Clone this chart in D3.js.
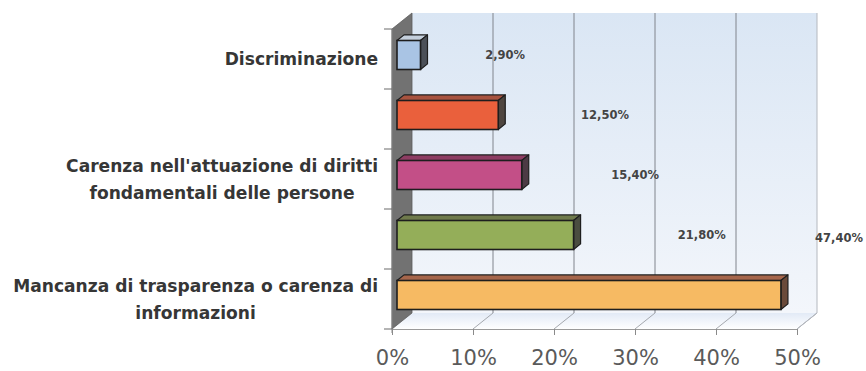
<!DOCTYPE html>
<html lang="it">
<head>
<meta charset="utf-8">
<script src="https://cdn.jsdelivr.net/npm/d3@7"></script>
<style>
  html, body { margin: 0; padding: 0; background: #ffffff; }
  svg { display: block; }
</style>
</head>
<body>
<svg id="chart" width="866" height="371"></svg>
<script>
// Category labels (wrapped lines; every other category label is not printed on the axis)
const categoryLines = [
  ["Discriminazione"],
  [],
  ["Carenza nell'attuazione di diritti", "fondamentali delle persone"],
  [],
  ["Mancanza di trasparenza o carenza di", "informazioni"]
];
// Percent values, one per category
const values = [2.9, 12.5, 15.4, 21.8, 47.4];
// Value-axis tick labels
const xTicks = [0, 10, 20, 30, 40, 50];

// Face colours of the 3D boxes
const frontColors = ["#a9c4e4", "#ea603c", "#c34f87", "#94ae59", "#f6ba63"];
const topColors   = ["#c4cfdc", "#a8533f", "#8e3d63", "#6f7a4c", "#a6664c"];
const sideColors  = ["#4b5058", "#4f4640", "#4c3a44", "#4a4d40", "#6a4a3a"];

const svg = d3.select("#chart");
const W = 866, H = 371;

// Front plane of the plot and the depth vector of the 3D box
const x = d3.scaleLinear().domain([0, 50]).range([392, 797]);
const y = d3.scaleBand().domain(d3.range(values.length)).range([29, 329]);
const DX = 20, DY = -16;
const yTop = y.range()[0], yBot = y.range()[1];
const x0 = x(0), x1 = x(50);

const itFormat = d3.formatLocale({ decimal: ",", thousands: ".", grouping: [3], currency: ["€", ""] }).format(".2f");

const defs = svg.append("defs");
const wallGrad = defs.append("linearGradient").attr("id", "wall").attr("x1", 0).attr("y1", 0).attr("x2", 0).attr("y2", 1);
wallGrad.append("stop").attr("offset", "0%").attr("stop-color", "#dae6f4");
wallGrad.append("stop").attr("offset", "100%").attr("stop-color", "#f3f6fb");
const floorGrad = defs.append("linearGradient").attr("id", "floor").attr("x1", 0).attr("y1", 0).attr("x2", 0).attr("y2", 1);
floorGrad.append("stop").attr("offset", "0%").attr("stop-color", "#e2eaf6");
floorGrad.append("stop").attr("offset", "100%").attr("stop-color", "#ffffff");

const poly = pts => pts.map(p => p.join(",")).join(" ");

// Back wall
svg.append("rect")
  .attr("x", x0 + DX).attr("y", yTop + DY)
  .attr("width", x1 - x0).attr("height", yBot - yTop)
  .attr("fill", "url(#wall)");

// Floor
svg.append("polygon")
  .attr("points", poly([[x0, yBot], [x1, yBot], [x1 + DX, yBot + DY], [x0 + DX, yBot + DY]]))
  .attr("fill", "url(#floor)");

// Vertical gridlines on the back wall and their traces across the floor
const grid = svg.append("g");
xTicks.filter(t => t > 0).forEach(t => {
  grid.append("line")
    .attr("x1", x(t) + DX).attr("x2", x(t) + DX)
    .attr("y1", yTop + DY).attr("y2", yBot + DY)
    .attr("stroke", t === 50 ? "#b4b8bf" : "#80848c").attr("stroke-width", 1);
  grid.append("line")
    .attr("x1", x(t)).attr("y1", yBot)
    .attr("x2", x(t) + DX).attr("y2", yBot + DY)
    .attr("stroke", "#a4a8ae").attr("stroke-width", 1);
});

// Left side wall
svg.append("polygon")
  .attr("points", poly([[x0, yTop], [x0 + DX, yTop + DY], [x0 + DX, yBot + DY], [x0, yBot]]))
  .attr("fill", "#727272").attr("stroke", "#5a5a5a").attr("stroke-width", 0.8);

// 3D bars: boxes sitting a quarter of the way into the depth
const t0 = 0.25, t1 = 0.6;
const ox = DX * t0, oy = DY * t0;
const bdx = DX * (t1 - t0), bdy = DY * (t1 - t0);
const barH = 29;

const bars = svg.append("g").selectAll("g").data(values).join("g");
bars.each(function(v, i) {
  const g = d3.select(this);
  const cy = y(i) + y.bandwidth() / 2 + oy;
  const xa = x(0) + ox, xb = x(v) + ox;
  const ya = cy - barH / 2, yb = cy + barH / 2;
  g.append("polygon")
    .attr("points", poly([[xa, ya], [xb, ya], [xb + bdx, ya + bdy], [xa + bdx, ya + bdy]]))
    .attr("fill", topColors[i]).attr("stroke", "#1e1e1e").attr("stroke-width", 1.2).attr("stroke-linejoin", "round");
  g.append("polygon")
    .attr("points", poly([[xb, ya], [xb + bdx, ya + bdy], [xb + bdx, yb + bdy], [xb, yb]]))
    .attr("fill", sideColors[i]).attr("stroke", "#1e1e1e").attr("stroke-width", 1.2).attr("stroke-linejoin", "round");
  g.append("rect")
    .attr("x", xa).attr("y", ya).attr("width", xb - xa).attr("height", barH)
    .attr("fill", frontColors[i]).attr("stroke", "#1e1e1e").attr("stroke-width", 1.6);
});

// Category axis: line plus ticks on the band boundaries
const catAxis = svg.append("g");
catAxis.append("line")
  .attr("x1", x0).attr("x2", x0).attr("y1", yTop).attr("y2", yBot + 4)
  .attr("stroke", "#8a8a8a").attr("stroke-width", 1);
d3.range(values.length + 1).forEach(k => {
  const yy = k < values.length ? y(k) : yBot;
  catAxis.append("line")
    .attr("x1", x0 - 8).attr("x2", x0).attr("y1", yy).attr("y2", yy)
    .attr("stroke", "#6a6a6a").attr("stroke-width", 1);
});

// Category labels, centred as a block whose right edge sits next to the axis
const labelRight = 378, lineGap = 27;
categoryLines.forEach((lines, i) => {
  if (!lines.length) return;
  const cy = y(i) + y.bandwidth() / 2;
  const t = svg.append("text")
    .attr("font-family", "DejaVu Sans, sans-serif")
    .attr("font-weight", "bold").attr("font-size", 17.1)
    .attr("fill", "#363636").attr("text-anchor", "middle");
  const spans = lines.map((s, j) => t.append("tspan").text(s));
  const maxW = d3.max(spans, s => s.node().getComputedTextLength());
  spans.forEach((s, j) => {
    s.attr("x", labelRight - maxW / 2)
     .attr("y", cy + (j - (lines.length - 1) / 2) * lineGap + 6);
  });
});

// Value axis along the front edge of the floor
const xAxis = svg.append("g")
  .attr("transform", `translate(0,${yBot})`)
  .call(d3.axisBottom(x).tickValues(xTicks).tickSize(6).tickSizeOuter(0).tickFormat(d => d + "%"));
xAxis.select(".domain").attr("stroke", "#9a9a9a");
xAxis.selectAll(".tick line").attr("stroke", "#8a8a8a");
xAxis.selectAll(".tick text")
  .attr("font-family", "DejaVu Sans, sans-serif").attr("font-size", 21)
  .attr("fill", "#5a5a5a").attr("dy", null).attr("y", 36);
// Right edge of the floor
svg.append("line")
  .attr("x1", x1).attr("y1", yBot).attr("x2", x1 + DX).attr("y2", yBot + DY)
  .attr("stroke", "#b4b8bf").attr("stroke-width", 1);

// Value labels, pushed out past the bar ends; a label that reaches the right
// edge is held inside the chart and lifted above its bar
const labelX = d3.scaleLinear().domain([0, 50]).range([475, 995]);
const labels = svg.append("g")
  .attr("font-family", "DejaVu Sans, sans-serif").attr("font-weight", "bold")
  .attr("font-size", 11.5).attr("fill", "#444").attr("text-anchor", "middle");
values.forEach((v, i) => {
  const txt = itFormat(v) + "%";
  const t = labels.append("text").text(txt);
  const w = t.node().getComputedTextLength();
  let cx = labelX(v);
  let cy = y(i) + y.bandwidth() / 2 + oy;
  const maxCx = W - w / 2 - 3;
  if (cx > maxCx) { cx = maxCx; cy -= y.step() * 0.95; }
  t.attr("x", cx).attr("y", cy + 4);
});
</script>
</body>
</html>
